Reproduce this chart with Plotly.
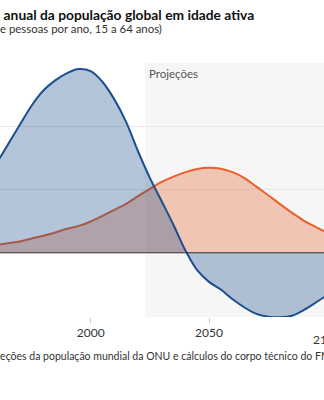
import plotly.graph_objects as go

# Data
years = [1960, 1965, 1970, 1975, 1980, 1985, 1990, 1995, 2000, 2005, 2010,
         2015, 2020, 2025, 2030, 2035, 2040, 2045, 2050, 2055, 2060, 2065,
         2070, 2075, 2080, 2085, 2090, 2095, 2100]
blue_vals = [28.0, 34.2, 40.4, 46.5, 51.3, 54.5, 56.8, 58.1, 57.4, 54.0, 48.5,
             41.3, 32.1, 23.7, 16.3, 8.8, 0.8, -5.5, -9.2, -11.6, -14.7, -17.3,
             -19.3, -20.2, -20.4, -19.9, -18.1, -15.8, -13.3]
orange_vals = [2.4, 3.0, 3.6, 4.5, 5.4, 6.4, 7.6, 8.5, 9.9, 11.7, 13.6,
               15.5, 17.9, 20.2, 22.4, 24.1, 25.5, 26.5, 26.9, 26.6, 25.5, 23.6,
               20.9, 18.2, 15.4, 12.7, 10.2, 8.2, 6.3]
x_ticks = [1950, 2000, 2050, 2100]
y_ticks = [-20, 0, 20, 40, 60]
proj_start = 2023
x_range = [1961.67, 2098.6]
y_range = [-20.3, 60]

title = "Crescimento anual da população global em idade ativa"
subtitle = "(Milhões de pessoas por ano, 15 a 64 anos)"
source = "Fonte: Projeções da população mundial da ONU e cálculos do corpo técnico do FMI."

BLUE = "#1d4f8f"
ORANGE = "#e8602c"
FONT = "Lato"

fig = go.Figure()
fig.add_trace(go.Scatter(x=years, y=orange_vals, mode="lines", line=dict(color=ORANGE, width=2, shape="spline"),
                         fill="tozeroy", fillcolor="rgba(232,96,44,0.33)", hoverinfo="skip", showlegend=False))
fig.add_trace(go.Scatter(x=years, y=blue_vals, mode="lines", line=dict(color=BLUE, width=2, shape="spline"),
                         fill="tozeroy", fillcolor="rgba(31,78,140,0.33)", hoverinfo="skip", showlegend=False))

fig.add_shape(type="rect", xref="x", yref="paper", x0=proj_start, x1=x_range[1] + 5, y0=0, y1=1,
              fillcolor="#f6f6f6", line=dict(width=0), layer="below")
fig.add_shape(type="line", xref="paper", yref="y", x0=0, x1=1, y0=0, y1=0,
              line=dict(color="#333333", width=1), layer="above")

fig.add_annotation(x=proj_start, xref="x", y=1, yref="paper", text="Projeções", showarrow=False,
                   xanchor="left", yanchor="top", xshift=2, yshift=-2,
                   font=dict(family=FONT, size=11.5, color="#555555"))

span = x_range[1] - x_range[0]
fig.add_annotation(x=(2100 - x_range[0]) / span, xref="paper", y=0, yref="paper", text="2100",
                   showarrow=False, xanchor="center", yanchor="top", yshift=-13,
                   font=dict(family=FONT, size=12, color="#333333"))

fig.add_annotation(x=256 / 324, xref="paper", y=1, yref="paper", yshift=63 - 4, text="<b>" + title + "</b>",
                   showarrow=False, xanchor="right", yanchor="top",
                   font=dict(family=FONT, size=13.8, color="#111111"))
fig.add_annotation(x=164 / 324, xref="paper", y=1, yref="paper", yshift=63 - 20, text=subtitle,
                   showarrow=False, xanchor="right", yanchor="top",
                   font=dict(family=FONT, size=11.4, color="#333333"))
fig.add_annotation(x=-52 / 324, xref="paper", y=0, yref="paper", yshift=-31, text=source,
                   showarrow=False, xanchor="left", yanchor="top",
                   font=dict(family=FONT, size=10.5, color="#333333"))

fig.update_layout(
    width=324, height=400,
    margin=dict(l=0, r=0, t=63, b=83),
    paper_bgcolor="white", plot_bgcolor="white",
    font=dict(family=FONT, color="#333333"),
    xaxis=dict(range=x_range, tickvals=x_ticks, ticks="outside", ticklen=5, tickcolor="#cccccc",
               showgrid=False, zeroline=False, showline=False,
               tickfont=dict(family=FONT, size=12, color="#333333")),
    yaxis=dict(range=y_range, tickvals=y_ticks, showticklabels=False, showgrid=True,
               gridcolor="#e8e8e8", gridwidth=1, zeroline=False, showline=False),
)

fig.write_html("out.html")
